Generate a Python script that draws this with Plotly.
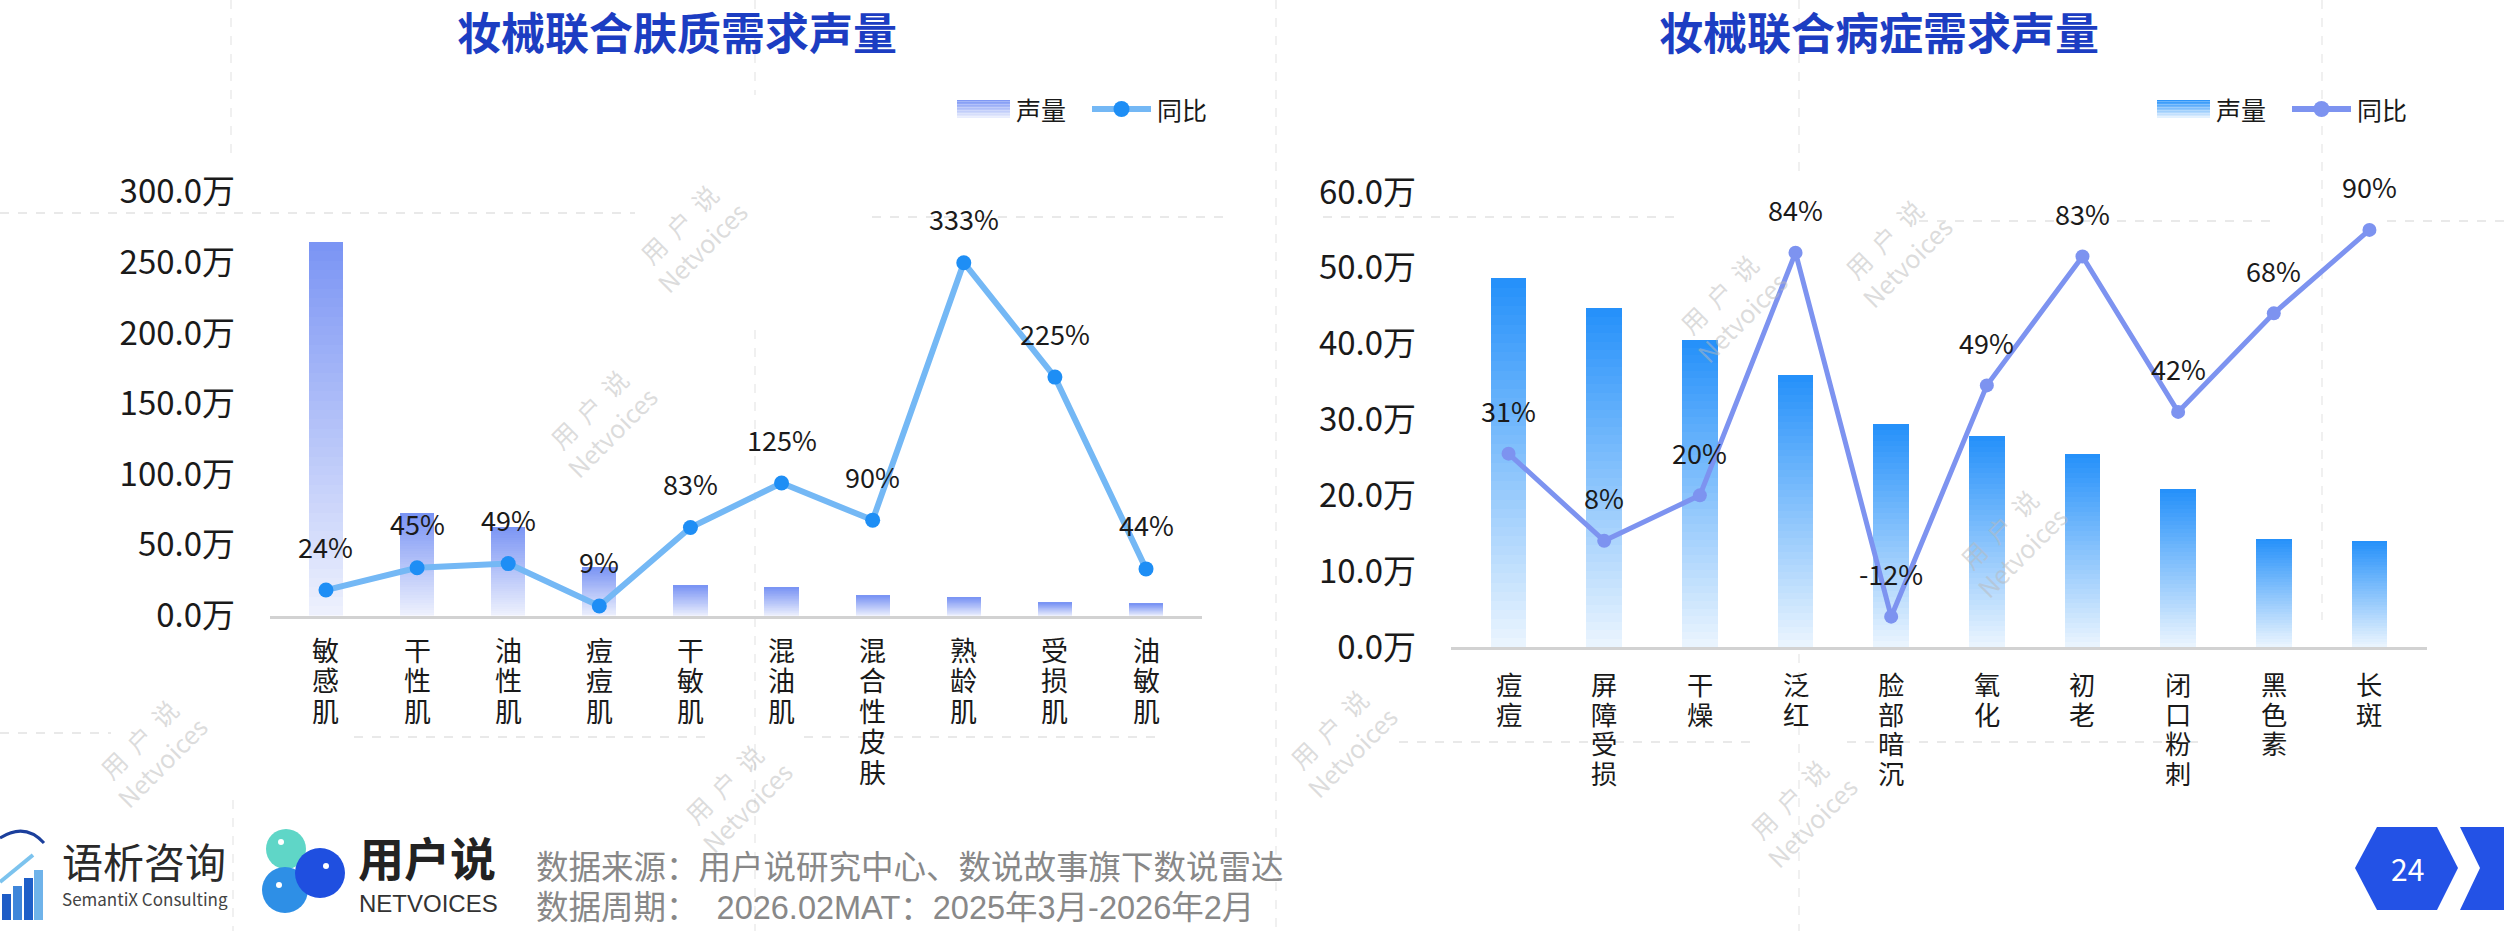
import plotly.graph_objects as go

# ---------------- data ----------------
skin_categories = ["敏感肌", "干性肌", "油性肌", "痘痘肌", "干敏肌", "混油肌", "混合性皮肤", "熟龄肌", "受损肌", "油敏肌"]
skin_volume = [264.5, 72.5, 63.0, 34.5, 21.3, 20.1, 14.2, 13.0, 9.2, 8.5]      # 万
skin_yoy = [24, 45, 49, 9, 83, 125, 90, 333, 225, 44]                          # %

condition_categories = ["痘痘", "屏障受损", "干燥", "泛红", "脸部暗沉", "氧化", "初老", "闭口粉刺", "黑色素", "长斑"]
condition_volume = [48.6, 44.7, 40.5, 35.9, 29.4, 27.8, 25.5, 20.8, 14.3, 14.0]  # 万
condition_yoy = [31, 8, 20, 84, -12, 49, 83, 42, 68, 90]                          # %

left_yticks = [0, 50, 100, 150, 200, 250, 300]
right_yticks = [0, 10, 20, 30, 40, 50, 60]

left_title = "妆械联合肤质需求声量"
right_title = "妆械联合病症需求声量"
source_line1 = "数据来源：用户说研究中心、数说故事旗下数说雷达"
source_line2 = "数据周期：  2026.02MAT：2025年3月-2026年2月"
page_number = "24"

# ---------------- helpers ----------------
W, H = 2504, 931
FONT = "Noto Sans CJK SC"
FONT_TIGHT = "Liberation Sans, Noto Sans CJK SC"   # CJK glyphs from Noto, compact line box


def px(x):
    return x / W


def py(y):
    return 1 - y / H


def hex2rgb(h):
    h = h.lstrip("#")
    return tuple(int(h[i:i + 2], 16) for i in (0, 2, 4))


def lerp(c1, c2, t):
    a, b = hex2rgb(c1), hex2rgb(c2)
    return "rgb(%d,%d,%d)" % tuple(round(a[i] + (b[i] - a[i]) * t) for i in range(3))


N_SEG = 40
LEFT_TOP, LEFT_BOT = "#7a94f4", "#eef1fd"
RIGHT_TOP, RIGHT_BOT = "#2490fa", "#ebf5fe"
LEFT_LINE, LEFT_MARK = "#74b8f5", "#1e8ef5"
RIGHT_LINE, RIGHT_MARK = "#7d93f0", "#7d93f0"
TITLE_COLOR = "#1c3dc2"
TEXT = "#1a1a1a"

fig = go.Figure()

# ---------------- bars (vertical gradient via stacked slices) ----------------
for k in range(N_SEG):
    t = (k + 0.5) / N_SEG
    fig.add_trace(go.Bar(
        x=skin_categories, y=[v / N_SEG for v in skin_volume],
        marker=dict(color=lerp(LEFT_BOT, LEFT_TOP, t), line=dict(width=0)),
        width=0.375, xaxis="x", yaxis="y", showlegend=False, hoverinfo="skip", name="声量"))
    fig.add_trace(go.Bar(
        x=condition_categories, y=[v / N_SEG for v in condition_volume],
        marker=dict(color=lerp(RIGHT_BOT, RIGHT_TOP, t), line=dict(width=0)),
        width=0.375, xaxis="x2", yaxis="y3", showlegend=False, hoverinfo="skip", name="声量"))

# ---------------- lines ----------------
fig.add_trace(go.Scatter(
    x=skin_categories, y=skin_yoy, mode="lines+markers", name="同比",
    line=dict(color=LEFT_LINE, width=6), marker=dict(color=LEFT_MARK, size=15),
    xaxis="x", yaxis="y2", showlegend=False))
fig.add_trace(go.Scatter(
    x=condition_categories, y=condition_yoy, mode="lines+markers", name="同比",
    line=dict(color=RIGHT_LINE, width=5), marker=dict(color=RIGHT_MARK, size=14),
    xaxis="x2", yaxis="y4", showlegend=False))

annotations = []
shapes = []


def note(x, y, text, size, color=TEXT, xanchor="center", family=FONT, **kw):
    annotations.append(dict(x=px(x), y=py(y), xref="paper", yref="paper", text=text, showarrow=False,
                            xanchor=xanchor, yanchor="middle",
                            font=dict(size=size, color=color, family=family), **kw))


# value labels
for c, v in zip(skin_categories, skin_yoy):
    annotations.append(dict(x=c, y=v, xref="x", yref="y2", text=f"{v}%", showarrow=False,
                            xanchor="center", yanchor="middle",
                            yshift=44, font=dict(size=27, color=TEXT, family=FONT)))
for c, v in zip(condition_categories, condition_yoy):
    annotations.append(dict(x=c, y=v, xref="x2", yref="y4", text=f"{v}%", showarrow=False,
                            xanchor="center", yanchor="middle",
                            yshift=43, font=dict(size=27, color=TEXT, family=FONT)))


# vertical category labels: one character per line, tight line spacing
def vertical(label, glyph):
    return "<br>".join(f'<span style="font-size:{glyph}px">{ch}</span>' for ch in label)


for c in skin_categories:
    annotations.append(dict(x=c, y=0, xref="x", yref="y", text=vertical(c, 27), showarrow=False,
                            xanchor="center", yanchor="top", yshift=-20, borderpad=0,
                            font=dict(size=23.4, color=TEXT, family=FONT_TIGHT)))
for c in condition_categories:
    annotations.append(dict(x=c, y=0, xref="x2", yref="y3", text=vertical(c, 26.3), showarrow=False,
                            xanchor="center", yanchor="top", yshift=-23, borderpad=0,
                            font=dict(size=22.7, color=TEXT, family=FONT_TIGHT)))

# titles
note(677, 31, f"<b>{left_title}</b>", 44, TITLE_COLOR)
note(1879, 31, f"<b>{right_title}</b>", 44, TITLE_COLOR)


# custom legends
def legend(x_rect, top_c, bot_c, x_line, line_c, mark_c):
    for s in range(12):
        t0, t1 = s / 12, (s + 1) / 12
        shapes.append(dict(type="rect", xref="paper", yref="paper",
                           x0=px(x_rect), x1=px(x_rect + 53),
                           y0=py(100 + 18 * t1), y1=py(100 + 18 * t0),
                           fillcolor=lerp(top_c, bot_c, (s + 0.5) / 12), line=dict(width=0)))
    note(x_rect + 57, 109, "声量", 25, xanchor="left")
    shapes.append(dict(type="line", xref="paper", yref="paper", x0=px(x_line), x1=px(x_line + 59),
                       y0=py(109), y1=py(109), line=dict(color=line_c, width=6)))
    cx = x_line + 29.5
    shapes.append(dict(type="circle", xref="paper", yref="paper", x0=px(cx - 8), x1=px(cx + 8),
                       y0=py(117), y1=py(101), fillcolor=mark_c, line=dict(width=0)))
    note(x_line + 63, 109, "同比", 25, xanchor="left")


legend(957, LEFT_TOP, LEFT_BOT, 1092, LEFT_LINE, LEFT_MARK)
legend(2157, RIGHT_TOP, RIGHT_BOT, 2292, RIGHT_LINE, RIGHT_MARK)

# ---------------- background decoration: dashed guide lines ----------------
dash_h = [(0, 635, 213), (872, 1230, 217), (1323, 1677, 217), (1919, 2272, 221), (2387, 2504, 221),
          (0, 111, 733), (354, 707, 737), (804, 1158, 737), (1399, 1752, 742), (1847, 2200, 742)]
dash_v = [(231, 0, 160), (755, 0, 95), (755, 330, 931), (233, 800, 931), (1276, 0, 931),
          (1799, 0, 180), (1799, 600, 931), (2322, 0, 620)]
for x0, x1, y in dash_h:
    shapes.append(dict(type="line", xref="paper", yref="paper", x0=px(x0), x1=px(x1), y0=py(y), y1=py(y),
                       line=dict(color="#e2e2e2", width=1.5, dash="dash"), layer="below"))
for x, y0, y1 in dash_v:
    shapes.append(dict(type="line", xref="paper", yref="paper", x0=px(x), x1=px(x), y0=py(y0), y1=py(y1),
                       line=dict(color="#e6e6e6", width=1.2, dash="dash"), layer="below"))

# watermarks (placed in free space)
wm_pos = [(690, 235), (150, 750), (1730, 305), (1895, 250), (1340, 740), (1800, 810), (735, 795),
          (600, 420), (2010, 540)]
for x, y in wm_pos:
    note(x, y, "用  户  说<br>Netvoices", 25, "rgba(185,185,185,0.5)", textangle=-45)

# ---------------- footer ----------------
bar_cols = ["#1e5cc6", "#3f86da", "#1f5fc8", "#6fb3ea"]
for i, (bx, bh) in enumerate([(2, 26), (13, 34), (24, 42), (34, 50)]):
    shapes.append(dict(type="rect", xref="paper", yref="paper", x0=px(bx), x1=px(bx + 9),
                       y0=py(920), y1=py(920 - bh), fillcolor=bar_cols[i], line=dict(width=0)))
shapes.append(dict(type="path", xref="paper", yref="paper",
                   path=f"M {px(0)},{py(838)} Q {px(25)},{py(822)} {px(44)},{py(843)}",
                   line=dict(color="#1b3f9c", width=3)))
shapes.append(dict(type="line", xref="paper", yref="paper", x0=px(0), y0=py(882), x1=px(33), y1=py(855),
                   line=dict(color="#7cc3ee", width=4)))
note(60, 864, "语析咨询", 41, "#2a2a2a", xanchor="left", family=FONT_TIGHT)
note(60, 898, "SemantiX Consulting", 17, "#444444", xanchor="left")

for (cx, cy, r, col) in [(286, 849, 20, "#5fd6c7"), (285, 890, 23, "#2e8fe6"), (320, 873, 25, "#1f4fe0")]:
    shapes.append(dict(type="circle", xref="paper", yref="paper", x0=px(cx - r), x1=px(cx + r),
                       y0=py(cy + r), y1=py(cy - r), fillcolor=col, line=dict(width=0)))
for (cx, cy) in [(281, 842), (279, 885), (326, 866)]:
    shapes.append(dict(type="circle", xref="paper", yref="paper", x0=px(cx - 3), x1=px(cx + 3),
                       y0=py(cy + 3), y1=py(cy - 3), fillcolor="white", line=dict(width=0)))
note(356, 860, "<b>用户说</b>", 46, "#222222", xanchor="left", family=FONT_TIGHT)
note(357, 903, "NETVOICES", 24, "#333333", xanchor="left", family="Liberation Sans")

note(534, 868, source_line1, 32.5, "#888888", xanchor="left", family=FONT_TIGHT)
note(534, 908, source_line2, 32.5, "#888888", xanchor="left", family=FONT_TIGHT)

BADGE = "#2352e6"
shapes.append(dict(type="path", xref="paper", yref="paper", fillcolor=BADGE, line=dict(width=0),
                   path=(f"M {px(2355)},{py(868)} L {px(2377)},{py(827)} L {px(2437)},{py(827)} "
                         f"L {px(2458)},{py(868)} L {px(2437)},{py(910)} L {px(2377)},{py(910)} Z")))
shapes.append(dict(type="path", xref="paper", yref="paper", fillcolor=BADGE, line=dict(width=0),
                   path=(f"M {px(2460)},{py(827)} L {px(2504)},{py(827)} L {px(2504)},{py(910)} "
                         f"L {px(2460)},{py(910)} L {px(2480)},{py(868)} Z")))
note(2407, 868, page_number, 30, "white")

# ---------------- axes ----------------
tickfont = dict(size=33, color=TEXT, family=FONT)
xcommon = dict(type="category", showline=True, linecolor="#d2d2d2", linewidth=3, showticklabels=False,
               ticks="", showgrid=False, zeroline=False, fixedrange=True)
fig.update_layout(
    width=W, height=H, margin=dict(l=0, r=0, t=0, b=0, pad=0), autosize=False,
    paper_bgcolor="white", plot_bgcolor="rgba(0,0,0,0)",
    barmode="stack", showlegend=False,
    font=dict(family=FONT, color=TEXT),
    xaxis=dict(domain=[px(270), px(1202)], anchor="y", **xcommon),
    yaxis=dict(domain=[py(615.5), py(191.7)], range=[0, 300], tickvals=left_yticks,
               ticktext=[f"{v:.1f}万" for v in left_yticks],
               showgrid=False, zeroline=False, showline=False, ticks="",
               ticklabelstandoff=34, tickfont=tickfont, anchor="x", automargin=False),
    yaxis2=dict(overlaying="y", range=[0, 400], visible=False, anchor="x"),
    xaxis2=dict(domain=[px(1451), px(2427)], anchor="y3", **xcommon),
    yaxis3=dict(domain=[py(647), py(192)], range=[0, 60], tickvals=right_yticks,
                ticktext=[f"{v:.1f}万" for v in right_yticks],
                showgrid=False, zeroline=False, showline=False, ticks="",
                ticklabelstandoff=34, tickfont=tickfont, anchor="x2", automargin=False),
    yaxis4=dict(overlaying="y3", range=[-20, 100], visible=False, anchor="x2"),
    annotations=annotations, shapes=shapes,
)

fig.write_html("out.html")
